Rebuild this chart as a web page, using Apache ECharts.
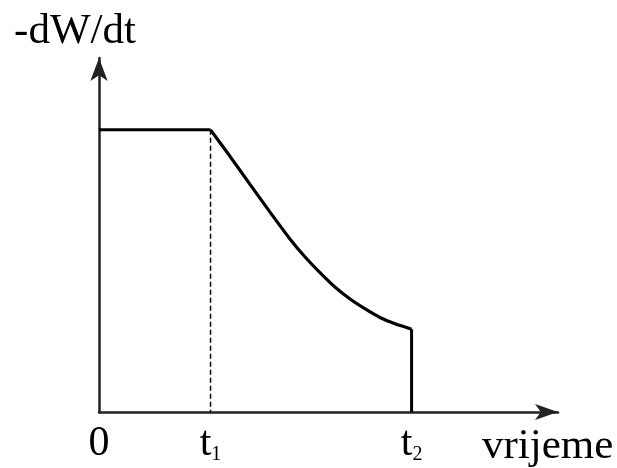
<!DOCTYPE html>
<html>
<head>
<meta charset="utf-8">
<script src="https://cdn.jsdelivr.net/npm/echarts@6/dist/echarts.min.js"></script>
<style>
  html, body { margin: 0; padding: 0; background: #fff; }
  #chart { width: 617px; height: 468px; }
</style>
</head>
<body>
<div id="chart"></div>
<script>
// vrijednosti očitane sa slike (x: 0..100, y: 0..100)
const t1 = 24.3;
const t2 = 68.1;
const plateauRate = 79.7;
const tickValues = [0, t1, t2];
const tickLabels = ['0', 't|1', 't|2'];
const fallingX = [24.3, 28.5, 32.9, 37.3, 41.6, 44.9, 48.2, 51.4, 54.7, 58.0, 61.2, 64.5, 68.1];
const fallingY = [79.7, 72.3, 64.3, 56.4, 48.9, 43.8, 39.3, 35.3, 31.9, 29.1, 26.7, 24.9, 23.4];

const serif = 'Liberation Serif';
const chart = echarts.init(document.getElementById('chart'));

const option = {
  animation: false,
  grid: { left: 99, right: 59, top: 58, bottom: 56 },
  xAxis: {
    type: 'value',
    min: 0,
    max: 100,
    name: 'vrijeme',
    nameLocation: 'end',
    nameGap: -76,
    nameTextStyle: {
      fontFamily: serif, fontSize: 43, color: '#000',
      verticalAlign: 'top', padding: [13, 0, 0, 0]
    },
    splitLine: { show: false },
    axisTick: { show: false },
    axisLine: {
      symbol: ['none', 'arrow'],
      symbolSize: [12, 23],
      lineStyle: { color: '#222', width: 2.5 }
    },
    axisLabel: {
      customValues: tickValues,
      margin: 11,
      fontFamily: serif,
      fontSize: 42,
      color: '#000',
      formatter: function (v) {
        const lab = tickLabels[tickValues.indexOf(v)];
        if (!lab) return '';
        const parts = lab.split('|');
        return parts.length > 1 ? '{m|' + parts[0] + '}{s|' + parts[1] + '}' : '{m|' + parts[0] + '}';
      },
      rich: {
        m: { fontFamily: serif, fontSize: 42, color: '#000' },
        s: { fontFamily: serif, fontSize: 20, color: '#000', verticalAlign: 'bottom', padding: [16, 0, 0, 0] }
      }
    }
  },
  yAxis: {
    type: 'value',
    min: 0,
    max: 100,
    name: '-dW/dt',
    nameLocation: 'end',
    nameGap: 5,
    nameTextStyle: {
      fontFamily: serif, fontSize: 43, color: '#000',
      align: 'center', padding: [0, 48, 0, 0]
    },
    splitLine: { show: false },
    axisTick: { show: false },
    axisLabel: { show: false },
    axisLine: {
      symbol: ['none', 'arrow'],
      symbolSize: [13, 23],
      lineStyle: { color: '#222', width: 2.5 }
    }
  },
  series: [
    {
      type: 'line',
      data: [[0, plateauRate], [t1, plateauRate]],
      showSymbol: false,
      lineStyle: { color: '#000', width: 3 }
    },
    {
      type: 'line',
      data: fallingX.map((x, i) => [x, fallingY[i]]),
      smooth: 0.25,
      showSymbol: false,
      lineStyle: { color: '#000', width: 3.2 }
    },
    {
      type: 'line',
      data: [[t2, fallingY[fallingY.length - 1]], [t2, 0]],
      showSymbol: false,
      lineStyle: { color: '#000', width: 3 }
    },
    {
      type: 'line',
      data: [[t1, plateauRate], [t1, 0]],
      showSymbol: false,
      lineStyle: { color: '#000', width: 1.5, type: [5, 3] }
    }
  ]
};

chart.setOption(option);
</script>
</body>
</html>
